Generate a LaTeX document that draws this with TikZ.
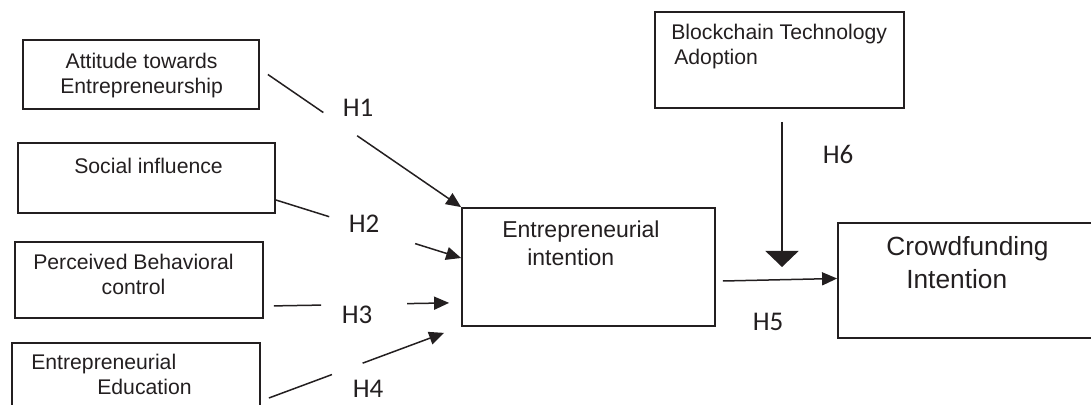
\documentclass[tikz,border=0pt]{standalone}
\usepackage{fontspec}
\setmainfont{Liberation Sans}
\newfontfamily\hypfont{Carlito}
\usepackage{tikz}
\usetikzlibrary{arrows.meta,positioning,calc}
\definecolor{ink}{RGB}{35,31,32}

\begin{document}
\begin{tikzpicture}[x=1pt, y=1pt, node distance=0pt,
  font=\fontsize{21.2}{25}\selectfont,
  box/.style={draw=ink, line width=1.8pt},
  txt/.style={inner sep=0pt, text=ink},
  hyp/.style={font=\hypfont\fontsize{27}{30}\selectfont, text=ink, inner sep=0pt},
  link/.style={draw=ink, line width=1.5pt},
  harrow/.style={link, -{Triangle[length=15pt, width=13pt]}}]
  \useasboundingbox (0,0) rectangle (1091,404);
  \clip (0,0) rectangle (1091,404);

  % predictors
  \node[box, minimum width=236pt, minimum height=69pt] (att) at (141,329.5) {};
  \node[txt, align=center, below right=14pt and 38pt of att.north west]
    (att-t) {Attitude towards\\Entrepreneurship};
  \node[box, minimum width=257pt, minimum height=70pt] (soc) at (146.5,226) {};
  \node[txt, below right=16pt and 57pt of soc.north west] (soc-t) {Social influence};
  \node[box, minimum width=248pt, minimum height=76pt] (pbc) at (139,124) {};
  \node[txt, align=center, below right=13pt and 19pt of pbc.north west]
    (pbc-t) {Perceived Behavioral\\control};
  \node[box, minimum width=248pt, minimum height=76pt] (edu) at (136,23) {};
  \node[txt, align=left, below right=12pt and 20pt of edu.north west]
    (edu-t) {Entrepreneurial\\\hspace*{66pt}Education};

  % mediator, moderator, outcome
  \node[box, minimum width=253pt, minimum height=118pt] (ei) at (588.5,137) {};
  \node[txt, align=left, font=\fontsize{23}{28}\selectfont, below right=14pt and 41pt of ei.north west]
    (ei-t) {Entrepreneurial\\\hspace*{25pt}intention};
  \node[box, minimum width=249pt, minimum height=96pt] (bta) at (779.5,344) {};
  \node[txt, align=left, below right=13pt and 17pt of bta.north west]
    (bta-t) {Blockchain Technology\\\hspace*{3pt}Adoption};
  \node[box, minimum width=262pt, minimum height=115pt] (cfi) at (969,123.5) {};
  \node[txt, align=left, font=\fontsize{26.3}{33}\selectfont, below right=14pt and 49pt of cfi.north west]
    (cfi-t) {Crowdfunding\\\hspace*{20pt}Intention};

  % path ends
  \coordinate (h1s) at ([xshift=8pt]att.east);
  \coordinate (h1e) at (ei.north west);
  \coordinate (h2s) at ([yshift=-22pt]soc.east);
  \coordinate (h2e) at ([yshift=9pt]ei.west);
  \coordinate (h3s) at ([shift={(10pt,13pt)}]pbc.south east);
  \coordinate (h3e) at ([shift={(-12pt,24pt)}]ei.south west);
  \coordinate (h4s) at ([shift={(8pt,-17pt)}]edu.east);
  \coordinate (h4e) at ([shift={(-17pt,-6pt)}]ei.south west);
  \path (bta.south |- ei.east) ++(2.5,0) coordinate (h6tip);

  % hypotheses
  \draw[link] (h1s) -- ($(h1s)!.287!(h1e)$);
  \draw[harrow] ($(h1s)!.462!(h1e)$) -- (h1e);
  \draw[link] (h2s) -- ($(h2s)!.288!(h2e)$);
  \draw[harrow] ($(h2s)!.752!(h2e)$) -- (h2e);
  \draw[link] (h3s) -- ($(h3s)!.27!(h3e)$);
  \draw[harrow] ($(h3s)!.76!(h3e)$) -- (h3e);
  \draw[link] (h4s) -- ($(h4s)!.36!(h4e)$);
  \draw[harrow] ($(h4s)!.535!(h4e)$) -- (h4e);
  \draw[harrow] ([shift={(7pt,-14pt)}]ei.east) -- ([yshift=2pt]cfi.west);
  \draw[link, -{Triangle[length=16pt, width=33pt]}] ([shift={(2.5pt,-13pt)}]bta.south) -- (h6tip);

  \node[hyp] (h1) at (358,296) {H1};
  \node[hyp] (h2) at (364,180) {H2};
  \node[hyp] (h3) at (357,89) {H3};
  \node[hyp] (h4) at (368,15) {H4};
  \node[hyp] (h5) at (768,82) {H5};
  \node[hyp] (h6) at (838,250) {H6};
\end{tikzpicture}
\end{document}
